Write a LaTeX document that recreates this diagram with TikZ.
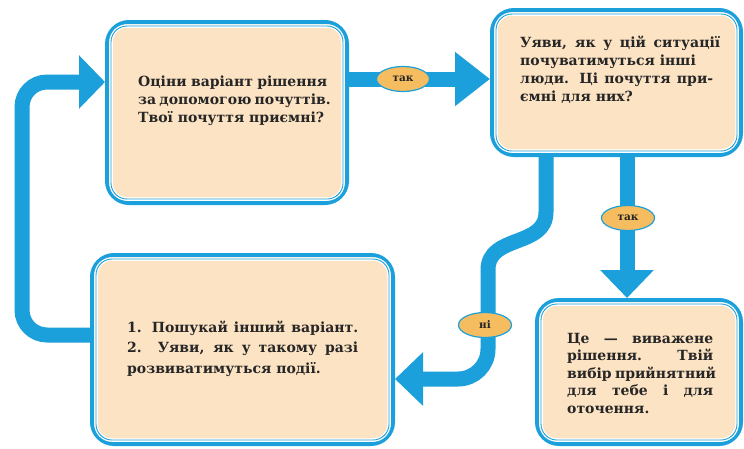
\documentclass[tikz,border=0pt]{standalone}
\usepackage{fontspec}
\setmainfont{DejaVu Serif}
\usetikzlibrary{arrows.meta,shapes.geometric}
\definecolor{myblue}{HTML}{1BA0DC}
\definecolor{peach}{HTML}{FCE3C3}
\definecolor{tagfill}{HTML}{F6BD60}
\tikzset{
  boxnode/.style={draw=myblue, line width=4pt, fill=peach, rounded corners=22pt, inner sep=0pt},
  innerline/.style={draw=myblue, line width=0.9pt, rounded corners=16pt, preaction={draw=white, line width=3.5pt}},
  txt/.style={anchor=north west, inner sep=0pt, align=left, text=black!85, font=\bfseries\fontsize{14}{18}\selectfont},
  flow/.style={draw=myblue, line width=15pt, -{Triangle[length=#1, width=52pt]}},
  flow/.default=30pt,
  tag/.style={ellipse, draw=myblue, line width=1.2pt, fill=tagfill, minimum width=53pt, minimum height=25pt, inner sep=0pt, text=black!85, font=\bfseries\fontsize{10.5}{12}\selectfont},
}
\begin{document}
\begin{tikzpicture}[x=1pt, y=-1pt]
\fill[white] (0,0) rectangle (744,448);
\useasboundingbox (0,0) rectangle (744,448);

% boxes
\node[boxnode, minimum width=240pt, minimum height=181pt] (b1) at (227,112.5) {};
\node[boxnode, minimum width=249pt, minimum height=145pt] (b2) at (616.5,82.5) {};
\node[boxnode, minimum width=301pt, minimum height=189pt] (b3) at (242.5,349.5) {};
\node[boxnode, minimum width=204pt, minimum height=144pt] (b4) at (639,372) {};
\foreach \b in {b1,b2,b3,b4}{
  \draw[innerline] ([shift={(6,6)}]\b.north west) rectangle ([shift={(-6,-6)}]\b.south east);
}

% texts
\node[txt] (t1) at (138,73.4) {\makebox[189pt][s]{\strut Оціни варіант рішення}\\\makebox[189pt][s]{за допомогою почуттів.}\\Твої почуття приємні?};
\node[txt] (t2) at (520,34.4) {\makebox[200pt][s]{\strut Уяви, як у цій ситуації}\\почуватимуться інші\\\makebox[193pt][s]{люди. Ці почуття при-}\\ємні для них?};
\node[txt, font=\bfseries\fontsize{14}{20.5}\selectfont] (t3) at (127,317.6) {\makebox[231pt][s]{\strut 1. Пошукай інший варіант.}\\\makebox[231pt][s]{2. Уяви, як у такому разі}\\розвиватимуться події.};
\node[txt, font=\bfseries\fontsize{14}{17.5}\selectfont] (t4) at (567,330.7) {\makebox[146pt][s]{\strut Це — виважене}\\\makebox[146pt][s]{рішення. Твій}\\\makebox[146pt][s]{вибір прийнятний}\\\makebox[146pt][s]{для тебе і для}\\оточення.};

% helper coordinates
\coordinate (ytop) at (0,79);
\coordinate (yloop) at (0,82);
\coordinate (yback) at (0,335);
\coordinate (yno) at (0,379);
\coordinate (xyes) at (627,0);
\coordinate (xno) at (546,0);

% connectors
\draw[flow=35pt] (b1.east |- ytop) -- (b2.west |- ytop);
\draw[flow=28pt] (b2.south -| xyes) -- (b4.north -| xyes);
\draw[flow=28pt] (b2.south -| xno) -- (546,212) .. controls (546,248) and (488,234) .. (488,270) [rounded corners=30pt] -- (488,379) -- (b3.east |- yno);
\draw[flow=26pt, rounded corners=25pt] (b3.west |- yback) -- (22,335) -- (22,82) -- (b1.west |- yloop);

% tags
\node[tag] (k1) at (403,79) {так};
\node[tag] (k2) at (628,218) {так};
\node[tag] (k3) at (485,325) {ні};
\end{tikzpicture}
\end{document}
